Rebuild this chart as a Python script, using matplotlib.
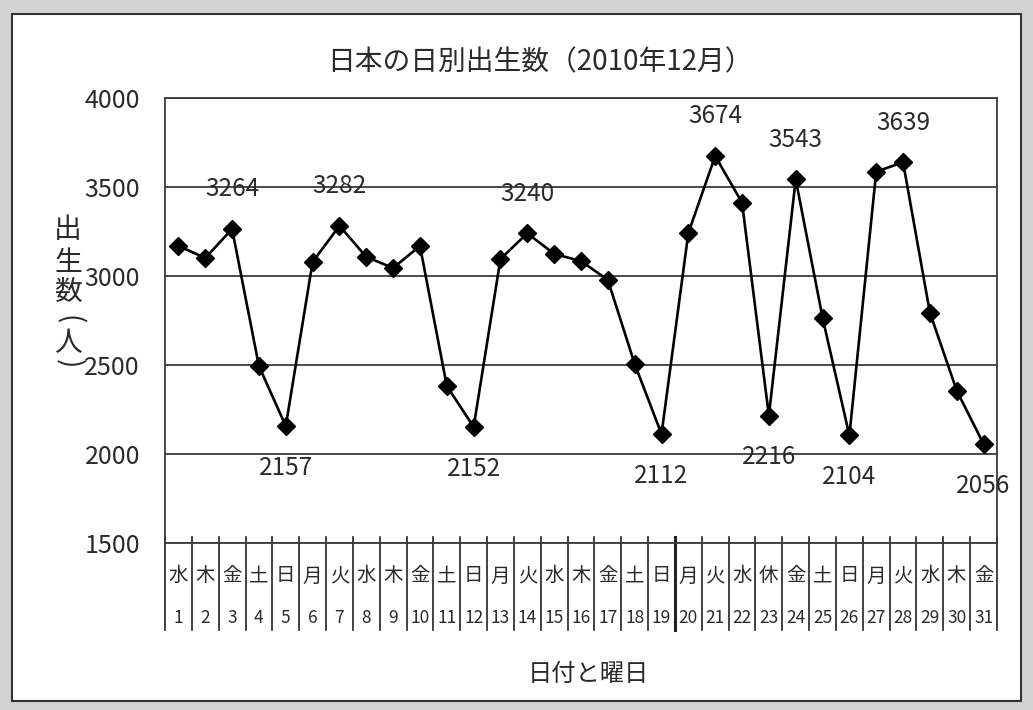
import numpy as np
import matplotlib.pyplot as plt
from matplotlib.patches import Rectangle

plt.rcParams['font.family'] = ['Noto Sans CJK JP', 'DejaVu Sans']

# daily births, Japan, December 2010
days = list(range(1, 32))
weekdays = ['水', '木', '金', '土', '日', '月', '火', '水', '木', '金', '土', '日', '月', '火', '水', '木',
            '金', '土', '日', '月', '火', '水', '休', '金', '土', '日', '月', '火', '水', '木', '金']
births = [3169, 3101, 3264, 2494, 2157, 3079, 3282, 3107, 3045, 3169, 2382, 2152, 3096, 3240, 3124, 3084,
          2978, 2506, 2112, 3242, 3674, 3412, 2216, 3543, 2766, 2104, 3586, 3639, 2794, 2356, 2056]

# days whose value gets printed, above (peaks) or below (troughs)
peak_days = [3, 7, 14, 21, 24, 28]
trough_days = [5, 12, 19, 23, 26, 31]

txt = '#2a2a2a'
grid_c = '#3a3a3a'

fig = plt.figure(figsize=(10.33, 7.10), dpi=100)
fig.patch.set_facecolor('#d3d3d3')
fig.patches.append(Rectangle((12 / 1033, 1 - 701 / 710), 1009 / 1033, 687 / 710,
                             transform=fig.transFigure, facecolor='white',
                             edgecolor='#333333', lw=1.5, zorder=-10))

ax = fig.add_axes([165 / 1033, 1 - 543 / 710, 832 / 1033, 445 / 710])
ax.set_zorder(2)
ax.set_facecolor('white')

ax.plot(days, births, color='black', lw=1.9, marker='D', markersize=9.5,
        markerfacecolor='black', markeredgecolor='black', zorder=3, clip_on=False)

for d in peak_days:
    v = births[d - 1]
    ax.annotate(str(v), (d, v), xytext=(0, 28.5), textcoords='offset points',
                ha='center', va='center', fontsize=17.5, color=txt)
for d in trough_days:
    v = births[d - 1]
    ax.annotate(str(v), (d, v), xytext=(0, -30), textcoords='offset points',
                ha='center', va='center', fontsize=17.5, color=txt)

ax.set_xlim(0.5, 31.5)
ax.set_ylim(1500, 4000)
ax.set_yticks(np.arange(1500, 4001, 500))
ax.tick_params(axis='y', length=0, pad=18, labelsize=18, labelcolor=txt)
ax.set_xticks([])
ax.yaxis.grid(True, color=grid_c, lw=1.3)
ax.set_axisbelow(True)
for s in ax.spines.values():
    s.set_color(grid_c)
    s.set_linewidth(1.3)

# category labels under the plot: weekday row, then day number row
for d, w in zip(days, weekdays):
    ax.text(d, -0.074, w, transform=ax.get_xaxis_transform(), ha='center', va='center',
            fontsize=14, color=txt)
    ax.text(d, -0.169, str(d), transform=ax.get_xaxis_transform(), ha='center', va='center',
            fontsize=12.5, color=txt)
for b in np.arange(0.5, 32, 1):
    ax.axvline(b, ymin=-0.196, ymax=0.013, color='#222222',
               lw=2.2 if b == 19.5 else 1.2, clip_on=False)

fig.text(540 / 1033, 1 - 62 / 710, '日本の日別出生数（2010年12月）', ha='center', va='center',
         fontsize=20, color=txt)
fig.text(588 / 1033, 1 - 674 / 710, '日付と曜日', ha='center', va='center',
         fontsize=17.5, color=txt)

# vertical y label, one glyph at a time; brackets turned to read top-down
ylab = [('出', 230, 0), ('生', 263, 0), ('数', 292, 0), ('(', 320, -90), ('人', 343, 0), (')', 364, -90)]
for ch, py, rot in ylab:
    fig.text(68 / 1033, 1 - py / 710, ch, ha='center', va='center', rotation=rot,
             fontsize=20, color=txt)

fig.savefig('out.png', dpi=100, facecolor=fig.get_facecolor())
